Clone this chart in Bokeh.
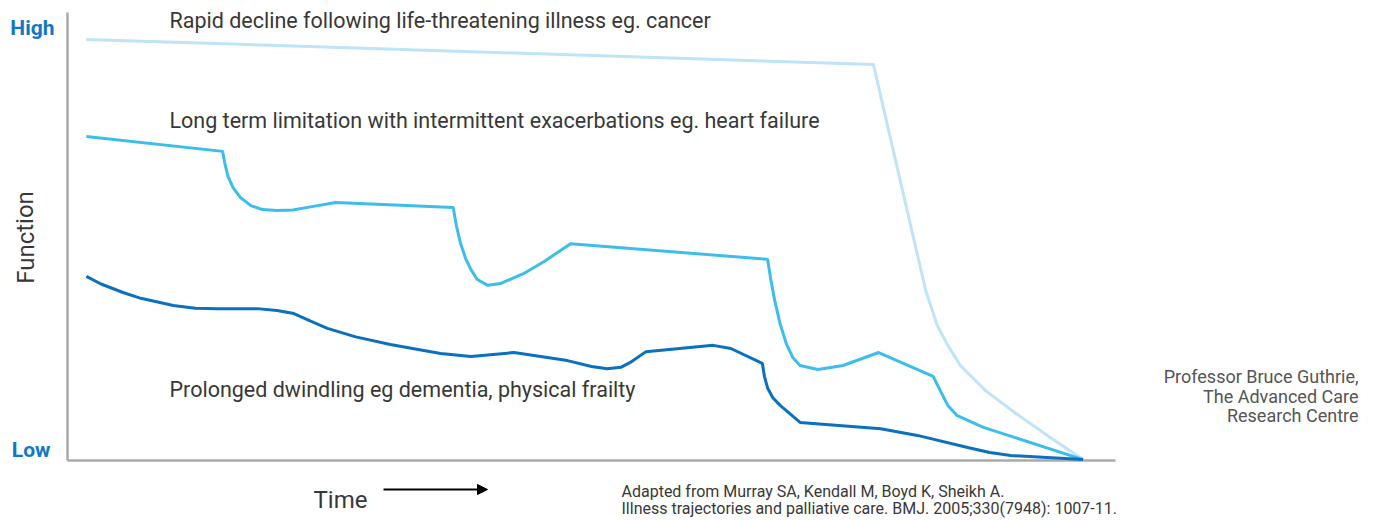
from bokeh.plotting import figure
from bokeh.models import Range1d, Label, Arrow, NormalHead
from bokeh.embed import file_html
from bokeh.resources import INLINE

# ---- data (Time 0-100, Function 0-100) ----
cancer_x = [1.8, 76.9, 79.9, 81.9, 83.0, 84.0, 85.2, 87.6, 90.5, 93.8, 96.9]
cancer_y = [94.0, 88.4, 58.0, 37.9, 30.1, 25.7, 21.2, 15.6, 10.5, 5.1, 0.2]

heart_x = [1.8, 14.8, 15.0, 15.3, 15.8, 16.5, 17.5, 18.6, 20.0, 21.5, 22.9, 25.6, 36.8, 37.1, 37.5,
           38.0, 38.5, 39.1, 40.1, 41.3, 43.5, 45.6, 48.0, 66.8, 67.1, 67.5, 68.0, 68.6, 69.2,
           69.9, 71.6, 74.0, 77.4, 82.6, 83.3, 84.0, 84.9, 87.4, 96.9]
heart_y = [72.3, 69.0, 66.5, 63.5, 60.9, 58.7, 56.9, 56.0, 55.8, 55.9, 56.5, 57.6, 56.5, 52.5, 48.5,
           45.0, 42.6, 40.4, 39.1, 39.5, 41.7, 44.6, 48.4, 44.9, 40.5, 35.5, 30.5, 26.0, 23.0,
           21.2, 20.3, 21.2, 24.1, 18.8, 15.5, 12.3, 10.0, 7.4, 0.2]

dementia_x = [1.8, 3.2, 5.3, 7.0, 10.1, 12.2, 14.3, 18.1, 20.0, 21.6, 23.2, 24.8, 27.5, 30.8, 35.6,
              38.5, 42.6, 47.7, 50.0, 51.5, 52.8, 53.7, 55.2, 61.6, 63.3, 66.3, 66.5, 66.8, 67.3,
              68.0, 69.9, 77.6, 81.1, 85.9, 88.0, 90.0, 96.9]
dementia_y = [41.1, 39.4, 37.5, 36.2, 34.6, 34.0, 33.9, 33.9, 33.5, 32.8, 31.1, 29.5, 27.6, 25.9,
              23.9, 23.2, 24.1, 22.3, 21.0, 20.5, 20.8, 21.9, 24.3, 25.7, 25.0, 21.7, 18.8, 16.2,
              14.0, 12.3, 8.5, 7.1, 5.6, 2.9, 1.8, 1.1, 0.2]

series_labels = ["Rapid decline following life-threatening illness eg. cancer",
                 "Long term limitation with intermittent exacerbations eg. heart failure",
                 "Prolonged dwindling eg dementia, physical frailty"]
y_labels = ["High", "Low"]
x_label = "Time"
y_title = "Function"
citation = ["Adapted from Murray SA, Kendall M, Boyd K, Sheikh A.",
            "Illness trajectories and palliative care. BMJ. 2005;330(7948): 1007-11."]
credit = ["Professor Bruce Guthrie,", "The Advanced Care", "Research Centre"]

# ---- layout helpers (page pixels -> data units) ----
W, H = 1377, 520
FL, FR, FT, FB = 67, 1115, 12, 460
SX = (FR - FL) / 100.0
SY = (FB - FT) / 100.0
def dx(px):
    return (px - FL) / SX
def dy(py):
    return (FB - py) / SY

p = figure(width=W, height=H, output_backend="svg", toolbar_location=None,
           x_axis_type=None, y_axis_type=None,
           x_range=Range1d(dx(0), dx(W)), y_range=Range1d(dy(H), dy(0)),
           min_border=0, min_border_left=0, min_border_right=0,
           min_border_top=0, min_border_bottom=0)
p.outline_line_color = None
p.grid.visible = False
p.background_fill_color = "white"
p.border_fill_color = "white"

# axis spines
p.line([0, 0], [0, 100], line_color="#aaaaaa", line_width=2.5)
p.line([0, 100], [0, 0], line_color="#aaaaaa", line_width=2.5)

p.line(cancer_x, cancer_y, line_color="#bfe3f7", line_width=3)
p.line(heart_x, heart_y, line_color="#3dbde9", line_width=3)
p.line(dementia_x, dementia_y, line_color="#0b70bd", line_width=3)

TXT = "#383838"
FONT = "Roboto"
def lab(text, px, py, size, color=TXT, align="left", style="normal", angle=0):
    p.add_layout(Label(x=dx(px), y=dy(py), text=text, text_font=FONT, text_font_size=f"{size}px",
                       text_color=color, text_align=align, text_font_style=style,
                       angle=angle, text_baseline="middle"))

lab(series_labels[0], 169, 20, 21.5)
lab(series_labels[1], 169, 120, 21.5)
lab(series_labels[2], 169, 389, 21.5)
lab(y_labels[0], 54, 27.5, 21, color="#1278c2", align="right", style="bold")
lab(y_labels[1], 50, 449, 21, color="#1278c2", align="right", style="bold")
lab(y_title, 25, 237, 24, angle=1.5708, align="center")
lab(x_label, 313, 499, 24)
lab(citation[0], 621, 491, 16)
lab(citation[1], 621, 508, 16)
lab(credit[0], 1358, 376, 18, color="#555555", align="right")
lab(credit[1], 1358, 395.5, 18, color="#555555", align="right")
lab(credit[2], 1358, 415, 18, color="#555555", align="right")

p.add_layout(Arrow(end=NormalHead(size=10, fill_color="black", line_color="black"),
                   x_start=dx(383), y_start=dy(489), x_end=dx(487), y_end=dy(489),
                   line_color="black", line_width=2))

open("out.html", "w").write(file_html(p, INLINE))
